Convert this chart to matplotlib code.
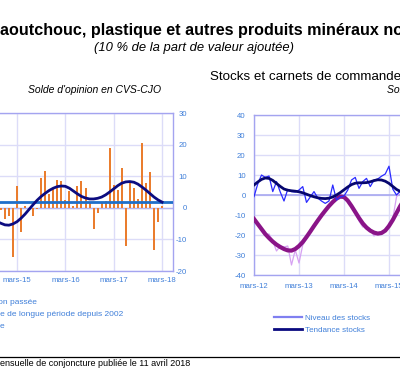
import numpy as np
import matplotlib
matplotlib.use("Agg")
import matplotlib.pyplot as plt
from matplotlib.lines import Line2D

plt.rcParams["font.family"] = ["Liberation Sans", "DejaVu Sans"]
plt.rcParams["axes.unicode_minus"] = False

# --- left panel: Oct 2014 .. Mar 2018, monthly (index 0 = Mar 2015)
prod_months = np.arange(-5, 37)
prod_passee = [-1.0, -0.6, -3.5, -2.7, -15.5, 7.0, -7.5, 0.5, 0.0, -2.5, -0.3,
               9.4, 11.8, 4.3, 5.9, 8.9, 8.5, 2.5, 5.2, 0.6, 7.0, 8.5, 6.4,
               1.5, -6.7, -1.7, 1.5, 2.0, 19.0, 7.3, 5.7, 12.5, -12.2, 7.8,
               6.2, 2.8, 20.5, 7.8, 11.2, -13.3, -4.6, 0.5]
prod_tendance = [-4.3, -4.9, -5.4, -5.5, -5.1, -4.4, -3.3, -2.0, -0.5, 1.0, 2.4,
                 3.6, 4.6, 5.5, 6.2, 6.7, 6.9, 6.8, 6.2, 5.3, 4.4, 3.6, 3.1,
                 2.8, 2.8, 3.0, 3.4, 4.1, 5.0, 6.0, 7.0, 7.8, 8.2, 8.3, 8.1,
                 7.5, 6.6, 5.6, 4.5, 3.4, 2.5, 1.8]
moyenne_lp = 1.9
left_ticks = [0, 12, 24, 36]
left_labels = ["mars-15", "mars-16", "mars-17", "mars-18"]

# --- right panel: Mar 2012 .. Jul 2015, monthly (index 0 = Mar 2012)
stk_months = np.arange(0, 41)
niveau_stocks = [-0.8, 5.5, 10.0, 8.8, 9.5, 1.7, 6.7, 1.5, -3.0, 2.8, 1.7,
                 1.5, 2.5, 4.2, -3.7, -1.0, 1.7, -1.5, -3.0, -4.2, -3.0, 5.0,
                 -2.5, -1.0, -0.5, 2.5, 7.5, 8.8, 3.3, 6.7, 8.3, 4.2, 7.5,
                 8.0, 9.4, 10.5, 14.4, 3.0, 0.0, 2.0, 3.0]
tendance_stocks = [5.0, 6.5, 7.8, 8.5, 8.3, 7.3, 5.8, 4.3, 3.0, 2.4, 2.1,
                   1.9, 1.6, 1.1, 0.4, -0.3, -0.9, -1.4, -1.7, -1.8, -1.6,
                   -1.0, 0.0, 1.2, 2.6, 4.0, 5.2, 5.9, 6.1, 6.1, 6.2, 6.6,
                   7.2, 7.6, 7.5, 6.9, 5.8, 4.3, 2.8, 1.8, 1.2]
niveau_carnets = [-13, -14, -18, -20, -19.5, -23, -28, -25.5, -26, -25.5, -35,
                  -27.5, -34, -25, -22, -18, -16, -12, -10, -8.5, -5, -3.5,
                  -2, -0.5, -1, -2, -6, -9, -13, -16, -15.5, -17, -20.5, -19,
                  -18.5, -18, -14, -12, -1, 2, 3]
tendance_carnets = [-12, -14.5, -17, -19.5, -21.5, -23.3, -24.8, -26, -27,
                    -27.7, -27.8, -27, -25.5, -23.5, -21, -18.3, -15.5,
                    -12.8, -10.2, -7.8, -5.5, -3.5, -1.8, -0.8, -1.0, -2.8,
                    -5.5, -8.5, -11.5, -14.2, -16.3, -17.8, -18.8, -19.3,
                    -19, -17.8, -15.5, -12.5, -9, -5.5, -2.5]
right_ticks = [0, 12, 24, 36]
right_labels = ["mars-12", "mars-13", "mars-14", "mars-15"]

W, H = 400, 386
fig = plt.figure(figsize=(W / 100, H / 100), dpi=100)

grid_c = "#dcdcf8"
spine_c = "#a4a4f0"
tick_c = "#3f7fd9"


def px_axes(x0, y_top, x1, y_bot):
    return fig.add_axes([x0 / W, 1 - y_bot / H, (x1 - x0) / W, (y_bot - y_top) / H])


def style(ax):
    for s in ax.spines.values():
        s.set_color(spine_c)
        s.set_linewidth(1.0)
    ax.grid(True, color=grid_c, linewidth=1.0)
    ax.set_axisbelow(True)
    ax.tick_params(length=0, colors=tick_c, labelsize=5.6)


# left panel
axL = px_axes(-60, 113, 173, 271)
pxm = 4.03
axL.set_xlim(-(17 + 60) / pxm, (173 - 17) / pxm)
axL.set_ylim(-20, 30)
style(axL)
axL.axhline(0, color="#b4b4f0", linewidth=1.0, zorder=1)
bars = axL.bar(prod_months, prod_passee, width=0.5, color="#ea7d2e", zorder=2)
mean_line = axL.axhline(moyenne_lp, color="#1f6fc9", linewidth=2.0, zorder=3)
trend_line, = axL.plot(prod_months, prod_tendance, color="#0c0c80", linewidth=2.0, zorder=4)
axL.set_xticks(left_ticks)
axL.set_xticklabels(left_labels)
axL.yaxis.tick_right()
axL.set_yticks([-20, -10, 0, 10, 20, 30])
for lab in axL.get_yticklabels():
    lab.set_horizontalalignment("right")
axL.tick_params(axis="y", pad=10)
axL.tick_params(axis="x", pad=4)

# right panel
axR = px_axes(254, 115, 534, 275)
pxr = 3.75
axR.set_xlim(0, 280 / pxr)
axR.set_ylim(-40, 40)
style(axR)
axR.axhline(0, color="#a8a8f0", linewidth=1.2, zorder=1)
axR.plot(stk_months, niveau_carnets, color="#d6a2f2", linewidth=0.9, zorder=2)
axR.plot(stk_months, tendance_carnets, color="#8a1488", linewidth=3.0, zorder=3)
l_niv, = axR.plot(stk_months, niveau_stocks, color="#2a2aff", linewidth=0.9, zorder=4)
l_tend, = axR.plot(stk_months, tendance_stocks, color="#06066e", linewidth=2.0, zorder=5)
axR.set_xticks(right_ticks)
axR.set_xticklabels(right_labels)
axR.set_yticks(np.arange(-40, 41, 10))
axR.tick_params(axis="y", pad=6)
axR.tick_params(axis="x", pad=6)

fig.legend([Line2D([], [], color="#7f7ff0", linewidth=1.6),
            Line2D([], [], color="#0a0a80", linewidth=2.0)],
           ["Niveau des stocks", "Tendance stocks"],
           loc="upper left", bbox_to_anchor=(274 / W, 1 - 314 / H),
           frameon=False, fontsize=5.8, labelcolor=tick_c,
           handlelength=3.5, handletextpad=0.3, labelspacing=0.6,
           borderpad=0, borderaxespad=0)

# left legend (handles fall outside the cropped page)
for x, y, txt in [(-33, 303, "Production passée"),
                  (-30, 314, "Moyenne de longue période depuis 2002"),
                  (-31, 327, "Tendance")]:
    fig.text(x / W, 1 - y / H, txt, fontsize=6.0, color=tick_c, va="center", ha="left")

# titles
fig.text(0, 1 - 31 / H, "aoutchouc, plastique et autres produits minéraux non métalliques",
         fontsize=11.6, fontweight="bold", va="center", ha="left")
fig.text(194 / W, 1 - 48 / H, "(10 % de la part de valeur ajoutée)",
         fontsize=9.4, style="italic", va="center", ha="center")
fig.text(210 / W, 1 - 77 / H, "Stocks et carnets de commandes",
         fontsize=9.6, va="center", ha="left")
fig.text(95 / W, 1 - 90 / H, "Solde d'opinion en CVS-CJO",
         fontsize=7.5, style="italic", va="center", ha="center")
fig.text(387 / W, 1 - 90 / H, "Solde d'opinion en CVS-CJO",
         fontsize=7.5, style="italic", va="center", ha="left")

fig.add_artist(Line2D([0, 1], [1 - 357 / H, 1 - 357 / H], color="black", linewidth=0.9))
fig.text(0, 1 - 364 / H, "ensuelle de conjoncture publiée le 11 avril 2018",
         fontsize=6.5, va="center", ha="left")

fig.savefig("out.png", dpi=100)
